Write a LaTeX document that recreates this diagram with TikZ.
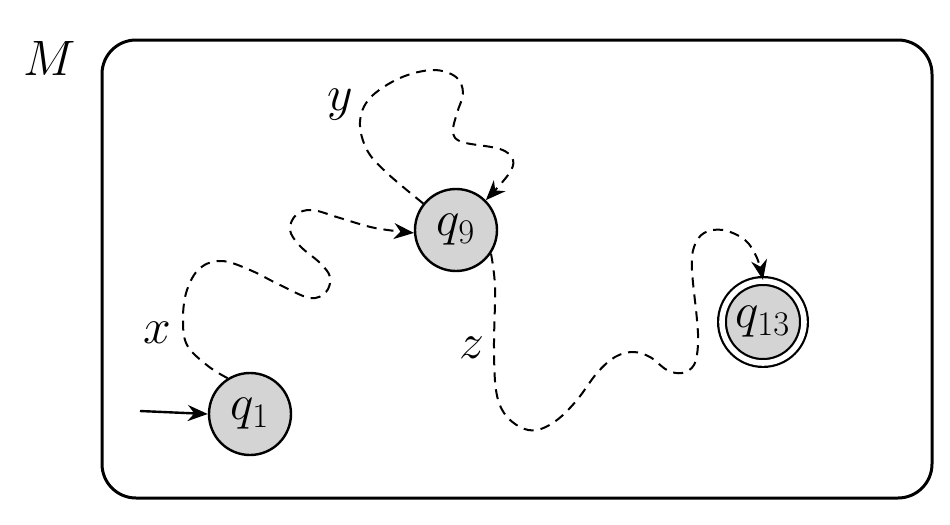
\documentclass[tikz,border=0pt]{standalone}
\usetikzlibrary{arrows.meta}
\begin{document}
\begin{tikzpicture}[x=0.5pt,y=-0.5pt,
  every node/.style={font=\fontsize{23}{27}\selectfont},
  state/.style={circle,draw,line width=1.2pt,fill=black!17,minimum size=41pt,inner sep=0pt},
  accstate/.style={state,double,double distance=2.8pt,line width=1.1pt},
  wiggle/.style={dashed,dash pattern=on 5pt off 3.5pt,line width=1pt,-{Stealth[length=10pt,width=8pt]}},
  lbl/.style={inner sep=0pt}]
\useasboundingbox (0,0) rectangle (950,525);
\draw[line width=1.5pt,rounded corners=17pt] (102,40) rectangle (932,498);
\node[lbl,font=\fontsize{25}{29}\selectfont] (M) at (50,58) {$M$};
\node[state] (q1) at (250,414) {$q_1$};
\node[state] (q9) at (456,230) {$q_9$};
\node[accstate] (q13) at (763,322) {$q_{13}$};
\coordinate (init) at (140,411);
\draw[line width=1.2pt,-{Stealth[length=10pt,width=8pt]}] (init) -- (q1.west);
\draw[wiggle] plot[smooth,tension=0.6] coordinates {(q1.122) (208,366) (187,345) (183,318) (187,290) (200,268) (222,261) (250,270) (280,285) (310,298) (326,292) (330,277) (320,263) (300,246) (290,230) (296,215) (312,210) (340,218) (375,228) (q9.184)};
\draw[wiggle] plot[smooth,tension=0.6] coordinates {(q9.141) (387,173) (367,150) (360,122) (370,98) (400,78) (433,70) (456,77) (463,93) (457,113) (453,132) (462,142) (500,149) (513,160) (508,175) (q9.45)};
\draw[wiggle] plot[smooth,tension=0.6] coordinates {(q9.-34) (495,287) (494,347) (496,390) (504,413) (520,427) (537,430) (557,420) (577,400) (597,373) (615,357) (633,352) (650,357) (667,370) (682,373) (694,365) (698,345) (697,320) (692,270) (694,247) (704,233) (723,230) (745,240) (757,258) (q13.north)};
\node[lbl] (x) at (157,333) {$x$};
\node[lbl] (y) at (340,105) {$y$};
\node[lbl] (z) at (472,348) {$z$};
\end{tikzpicture}
\end{document}
